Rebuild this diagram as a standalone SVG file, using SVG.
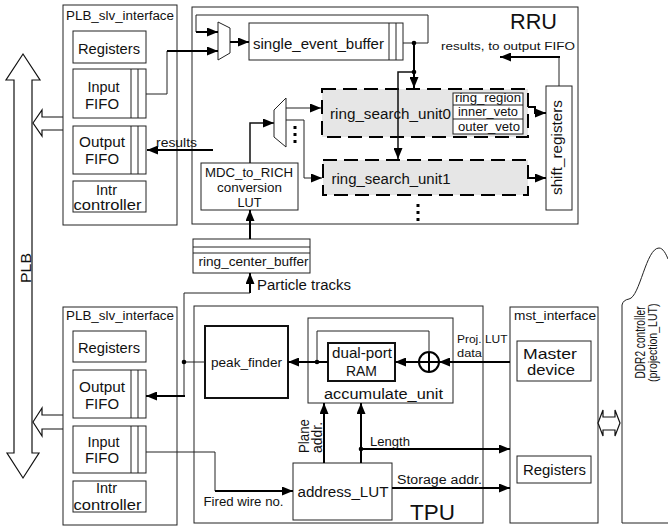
<svg xmlns="http://www.w3.org/2000/svg" width="668" height="527" viewBox="0 0 668 527">
<style>
.box{fill:#fff;stroke:#222;stroke-width:1}
.bold{fill:#fff;stroke:#111;stroke-width:2}
.dash{fill:#e6e6e6;stroke:#000;stroke-width:2;stroke-dasharray:14 7}
.thin{fill:none;stroke:#222;stroke-width:1}
.mid{fill:none;stroke:#111;stroke-width:1.5}
.thick{fill:none;stroke:#000;stroke-width:2}
.dbl{fill:#fff;stroke:#111;stroke-width:1.2;stroke-linejoin:miter}
.dot{fill:#000}
text{font-family:"Liberation Sans",Arial,Helvetica,sans-serif;fill:#111;font-size:14.5px}
.t12{font-size:12px}
.t125{font-size:12.5px}
.t13{font-size:13px}
.t14{font-size:14px}
.t115{font-size:11.5px}
.big{font-size:22px}
.rot{font-size:10.5px}
</style>
<defs>
<marker id="ah" markerUnits="userSpaceOnUse" markerWidth="11" markerHeight="9" viewBox="0 0 11 9" refX="11" refY="4.5" orient="auto">
<path d="M0,0 L11,4.5 L0,9 z" fill="#000"/>
</marker>
</defs>

<!-- PLB bus -->
<g id="plb">
<polygon class="dbl" points="23,54 40,80 32,80 32,453 39,453 23,478 7,453 14,453 14,80 6,80"/>
<text transform="translate(31,283) rotate(-90)" font-size="15" textLength="30" lengthAdjust="spacingAndGlyphs">PLB</text>
</g>
<g id="plb_link_top"><polygon class="dbl" points="33,123 42,110 42,117 64,117 64,110 73,123 64,136 64,130 42,130 42,136"/></g>
<g id="plb_link_bottom"><polygon class="dbl" points="33,422 42,408 42,415 64,415 64,408 73,422 64,436 64,429 42,429 42,436"/></g>

<!-- Top PLB slave interface -->
<g id="plb_slv_top">
<rect class="box" x="63" y="5" width="114" height="220"/>
<text class="t125" x="66" y="20" textLength="108" lengthAdjust="spacingAndGlyphs">PLB_slv_interface</text>
<rect class="box" x="73" y="31" width="73" height="32"/>
<text x="78" y="53.5" textLength="62" lengthAdjust="spacingAndGlyphs">Registers</text>
<rect class="box" x="73" y="69" width="73" height="49"/>
<line class="thin" x1="131" y1="69" x2="131" y2="118"/><line class="thin" x1="138" y1="69" x2="138" y2="118"/>
<text x="87.5" y="92" textLength="32" lengthAdjust="spacingAndGlyphs">Input</text>
<text x="85" y="108.5" textLength="34" lengthAdjust="spacingAndGlyphs">FIFO</text>
<rect class="box" x="73" y="126" width="73" height="48"/>
<line class="thin" x1="131" y1="126" x2="131" y2="174"/><line class="thin" x1="138" y1="126" x2="138" y2="174"/>
<text x="79" y="147" textLength="46" lengthAdjust="spacingAndGlyphs">Output</text>
<text x="85" y="163.5" textLength="34" lengthAdjust="spacingAndGlyphs">FIFO</text>
<rect class="box" x="73" y="181" width="73" height="31"/>
<text x="106.5" y="194.5" text-anchor="middle">Intr</text>
<text x="73.5" y="209.5" textLength="68" lengthAdjust="spacingAndGlyphs">controller</text>
</g>

<!-- RRU -->
<g id="rru">
<rect class="box" x="192" y="7" width="386" height="217"/>
<text class="big" x="510" y="29" textLength="47" lengthAdjust="spacingAndGlyphs">RRU</text>
<text class="t115" x="441" y="50" textLength="134" lengthAdjust="spacingAndGlyphs">results, to output FIFO</text>
</g>
<g id="mux_top"><polygon class="box" points="218,22 230,28 230,53 218,60"/></g>
<g id="single_event_buffer">
<rect class="box" x="249" y="23" width="154" height="37"/>
<line class="thin" x1="389" y1="23" x2="389" y2="60"/><line class="thin" x1="396" y1="23" x2="396" y2="60"/>
<text class="t14" x="253" y="49" textLength="131" lengthAdjust="spacingAndGlyphs">single_event_buffer</text>
</g>
<g id="ring_search_unit0">
<rect class="dash" x="322" y="89" width="206" height="48"/>
<text class="t14" x="330" y="119" textLength="121" lengthAdjust="spacingAndGlyphs">ring_search_unit0</text>
<rect class="box" x="453" y="93" width="70" height="41"/>
<line class="thin" x1="453" y1="105" x2="523" y2="105"/><line class="thin" x1="453" y1="119" x2="523" y2="119"/>
<text class="t12" x="455" y="101.5" textLength="66" lengthAdjust="spacingAndGlyphs">ring_region</text>
<text class="t12" x="458" y="116" textLength="60" lengthAdjust="spacingAndGlyphs">inner_veto</text>
<text class="t12" x="458" y="130.5" textLength="62" lengthAdjust="spacingAndGlyphs">outer_veto</text>
</g>
<g id="ring_search_unit1">
<rect class="dash" x="323" y="160" width="205" height="35"/>
<text class="t14" x="331.5" y="183.5" textLength="119" lengthAdjust="spacingAndGlyphs">ring_search_unit1</text>
</g>
<g id="shift_registers">
<rect class="box" x="546" y="86" width="26" height="124"/>
<text class="t14" transform="translate(562,147.5) rotate(-90)" x="-47.5" y="0" textLength="95" lengthAdjust="spacingAndGlyphs">shift_registers</text>
</g>
<g id="mux_low"><polygon class="box" points="274,110 286,98 286,147 274,137"/></g>
<g id="mdc_lut">
<rect class="box" x="201" y="163" width="97" height="47"/>
<text class="t13" x="205" y="177" textLength="88" lengthAdjust="spacingAndGlyphs">MDC_to_RICH</text>
<text class="t13" x="217" y="192" textLength="65" lengthAdjust="spacingAndGlyphs">conversion</text>
<text class="t13" x="237.5" y="207" textLength="24" lengthAdjust="spacingAndGlyphs">LUT</text>
</g>
<g id="ring_center_buffer">
<rect class="box" x="193" y="239" width="117" height="34"/>
<line class="thin" x1="193" y1="247" x2="310" y2="247"/><line class="thin" x1="193" y1="253" x2="310" y2="253"/>
<text class="t13" x="198.5" y="266" textLength="110" lengthAdjust="spacingAndGlyphs">ring_center_buffer</text>
</g>

<!-- Bottom PLB slave interface -->
<g id="plb_slv_bottom">
<rect class="box" x="63" y="307" width="114" height="218"/>
<text class="t125" x="66" y="319.5" textLength="108" lengthAdjust="spacingAndGlyphs">PLB_slv_interface</text>
<rect class="box" x="73" y="331" width="73" height="31"/>
<text x="78" y="353" textLength="62" lengthAdjust="spacingAndGlyphs">Registers</text>
<rect class="box" x="73" y="370" width="73" height="48"/>
<line class="thin" x1="131" y1="370" x2="131" y2="418"/><line class="thin" x1="138" y1="370" x2="138" y2="418"/>
<text x="79" y="392" textLength="46" lengthAdjust="spacingAndGlyphs">Output</text>
<text x="85" y="408.5" textLength="34" lengthAdjust="spacingAndGlyphs">FIFO</text>
<rect class="box" x="73" y="426" width="73" height="47"/>
<line class="thin" x1="131" y1="426" x2="131" y2="473"/><line class="thin" x1="138" y1="426" x2="138" y2="473"/>
<text x="87.5" y="446.5" textLength="32" lengthAdjust="spacingAndGlyphs">Input</text>
<text x="85" y="463" textLength="34" lengthAdjust="spacingAndGlyphs">FIFO</text>
<rect class="box" x="73" y="481" width="73" height="31"/>
<text x="106.5" y="492.5" text-anchor="middle">Intr</text>
<text x="73.5" y="510" textLength="68" lengthAdjust="spacingAndGlyphs">controller</text>
</g>

<!-- TPU -->
<g id="tpu">
<rect class="box" x="194" y="306" width="289" height="217"/>
<text class="big" x="410" y="520" textLength="45" lengthAdjust="spacingAndGlyphs">TPU</text>
</g>
<g id="peak_finder">
<rect class="bold" x="205" y="326" width="83" height="72"/>
<text class="t13" x="211" y="367" textLength="71" lengthAdjust="spacingAndGlyphs">peak_finder</text>
</g>
<g id="accumulate_unit">
<rect class="box" x="308" y="318" width="145" height="85"/>
<text class="t14" x="324" y="399" textLength="119" lengthAdjust="spacingAndGlyphs">accumulate_unit</text>
</g>
<g id="dual_port_ram">
<rect class="bold" x="328" y="343" width="67" height="38"/>
<text x="332" y="358" font-size="13.5" textLength="60" lengthAdjust="spacingAndGlyphs">dual-port</text>
<text x="346" y="376" font-size="13.5" textLength="31" lengthAdjust="spacingAndGlyphs">RAM</text>
</g>
<g id="adder">
<circle cx="429" cy="362" r="10" fill="#fff" stroke="#000" stroke-width="2"/>
<line class="thick" x1="419" y1="362" x2="439" y2="362"/><line class="thick" x1="429" y1="352" x2="429" y2="372"/>
</g>
<g id="address_lut">
<rect class="box" x="293" y="463" width="99" height="57"/>
<text class="t14" x="297.5" y="497" textLength="91" lengthAdjust="spacingAndGlyphs">address_LUT</text>
</g>

<!-- mst_interface -->
<g id="mst_interface">
<rect class="box" x="510" y="307" width="88" height="216"/>
<text class="t125" x="514" y="320" textLength="82" lengthAdjust="spacingAndGlyphs">mst_interface</text>
<rect class="box" x="517" y="341" width="74" height="40"/>
<text x="523" y="359" textLength="54" lengthAdjust="spacingAndGlyphs">Master</text>
<text x="527" y="375" textLength="48" lengthAdjust="spacingAndGlyphs">device</text>
<rect class="box" x="517" y="456" width="74" height="27"/>
<text x="523" y="475" textLength="63" lengthAdjust="spacingAndGlyphs">Registers</text>
</g>
<g id="mst_ddr_link"><polygon class="dbl" points="598,423 603,410 603,417 615,417 615,410 620,423 615,436 615,430 603,430 603,436"/></g>
<g id="ddr2_controller">
<path class="box" d="M668,523 L622,523 L622,305 Q623,300 629,299 C640,297 646,248 659,248 C663,248 666,254 668,259"/>
<text class="rot" transform="translate(645,378.5) rotate(-90) scale(1,1.45)" textLength="72" lengthAdjust="spacingAndGlyphs">DDR2 controller</text>
<text class="rot" transform="translate(657,382) rotate(-90) scale(1,1.3)" textLength="78.5" lengthAdjust="spacingAndGlyphs">(projection_LUT)</text>
</g>

<!-- Connectors -->
<g id="connectors">
<path class="thin" d="M146,94 H167 V51"/>
<path class="thick" d="M167,51 H218" marker-end="url(#ah)"/>
<path class="thin" d="M403,43 H428 V15 H196 V32"/>
<path class="thick" d="M196,32 H218" marker-end="url(#ah)"/>
<path class="thick" d="M230,42 H249" marker-end="url(#ah)"/>
<path class="thick" d="M414,43 V88" marker-end="url(#ah)"/>
<path class="mid" d="M414,72 H398 V159" marker-end="url(#ah)"/>
<circle class="dot" cx="414" cy="43" r="2.3"/>
<circle class="dot" cx="414" cy="72" r="2.3"/>
<path class="mid" d="M250,163 V123 H274" marker-end="url(#ah)"/>
<path class="thin" d="M286,108 H321" marker-end="url(#ah)"/>
<path class="thin" d="M286,120 H304 V178 H322" marker-end="url(#ah)"/>
<rect class="dot" x="293.5" y="126" width="3" height="3"/><rect class="dot" x="293.5" y="133" width="3" height="3"/><rect class="dot" x="293.5" y="140" width="3" height="3"/>
<path class="thick" d="M528,107 H535 V113 H546" marker-end="url(#ah)"/>
<path class="thick" d="M528,178 H546" marker-end="url(#ah)"/>
<path class="thin" d="M559,86 V57"/>
<path class="thick" d="M560,57 H500" marker-end="url(#ah)"/>
<rect class="dot" x="416.5" y="204" width="3" height="3"/><rect class="dot" x="416.5" y="211" width="3" height="3"/><rect class="dot" x="416.5" y="218" width="3" height="3"/>
<path class="thick" d="M213,150 H147" marker-end="url(#ah)"/>
<text class="t12" x="156" y="147" textLength="41" lengthAdjust="spacingAndGlyphs">results</text>
<path class="thick" d="M250,239 V210" marker-end="url(#ah)"/>
<path class="thick" d="M250,293 V273" marker-end="url(#ah)"/>
<text class="t14" x="257" y="290" textLength="94" lengthAdjust="spacingAndGlyphs">Particle tracks</text>
<path class="thin" d="M250,293 H184 V396"/>
<path class="thick" d="M185,396 H146" marker-end="url(#ah)"/>
<path class="thin" d="M205,362 H184"/>
<circle class="dot" cx="184" cy="362" r="2.3"/>
<path class="thick" d="M328,362 H288" marker-end="url(#ah)"/>
<path class="thin" d="M317,362 V331 H429 V352"/>
<circle class="dot" cx="317" cy="362" r="2.3"/>
<path class="thick" d="M419,362 H395" marker-end="url(#ah)"/>
<path class="thick" d="M510,362 H439" marker-end="url(#ah)"/>
<text class="t115" x="457" y="342.5" textLength="50.5" lengthAdjust="spacingAndGlyphs">Proj. LUT</text>
<text class="t115" x="457" y="356.5" textLength="25" lengthAdjust="spacingAndGlyphs">data</text>
<path class="thick" d="M324,463 V403" marker-end="url(#ah)"/>
<path class="thick" d="M361,463 V403" marker-end="url(#ah)"/>
<path class="thick" d="M361,449 H510" marker-end="url(#ah)"/>
<circle class="dot" cx="361" cy="449" r="2.3"/>
<text transform="translate(308.5,453) rotate(-90)" font-size="14" textLength="34" lengthAdjust="spacingAndGlyphs">Plane</text>
<text transform="translate(322,453) rotate(-90)" font-size="14" textLength="31" lengthAdjust="spacingAndGlyphs">addr.</text>
<text class="t12" x="370" y="446" textLength="40" lengthAdjust="spacingAndGlyphs">Length</text>
<path class="thick" d="M392,488 H510" marker-end="url(#ah)"/>
<text class="t12" x="397" y="484" textLength="85" lengthAdjust="spacingAndGlyphs">Storage addr.</text>
<path class="thin" d="M146,452 H215 V491"/>
<path class="thick" d="M215,491 H293" marker-end="url(#ah)"/>
<text class="t12" x="203.5" y="506" textLength="80" lengthAdjust="spacingAndGlyphs">Fired wire no.</text>
</g>
</svg>
